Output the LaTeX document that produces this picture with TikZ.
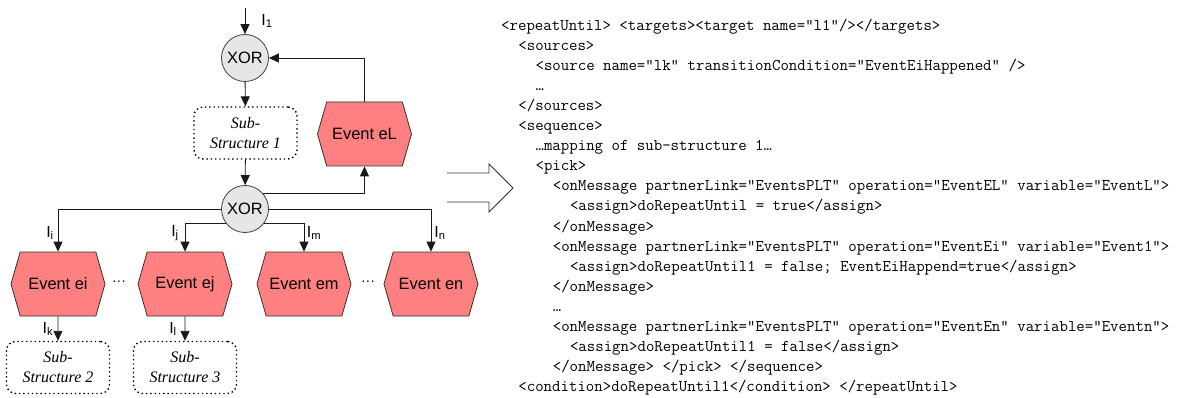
\documentclass[tikz,border=0pt]{standalone}
\usepackage{fontspec}
\setmainfont{Liberation Sans}
\newfontfamily\subfont{Liberation Serif}
\usetikzlibrary{arrows.meta,shapes.symbols}

\definecolor{evred}{RGB}{255,128,128}
\definecolor{xorgray}{RGB}{230,230,230}

\tikzset{
  line/.style={draw=black!90, line width=0.9pt},
  arr/.style={line, -{Triangle[length=10pt,width=9pt]}},
  xorgate/.style={circle, draw=black!75, fill=xorgray, line width=0.8pt,
    minimum size=47pt, inner sep=0pt, font=\fontsize{16.4}{18}\selectfont},
  event/.style={signal, signal to=west and east, signal pointer angle=148,
    draw=black!80, fill=evred, line width=0.8pt, minimum width=94pt,
    minimum height=64pt, inner sep=0pt, font=\fontsize{16.4}{18}\selectfont},
  subbox/.style={rectangle, rounded corners=9pt, draw=black,
    dash pattern=on 1.4pt off 2.9pt, line width=1.4pt, minimum width=103pt,
    minimum height=52pt, inner sep=0pt, align=center,
    font=\subfont\itshape\fontsize{16}{20}\selectfont},
  lbl/.style={inner sep=0pt, font=\fontsize{16}{18}\selectfont},
  dots/.style={inner sep=0pt, font=\fontsize{14}{16}\selectfont},
  code/.style={anchor=base west, inner sep=0pt,
    font=\ttfamily\fontsize{16.4}{20}\selectfont},
}

\begin{document}
\begin{tikzpicture}[x=1pt, y=-1pt]
  \useasboundingbox (0,0) rectangle (1188,398);

  % --- process structure ---
  \node[xorgate] (xor1) at (245,58) {XOR};
  \node[subbox]  (sub1) at (245.5,133) {Sub-\\Structure 1};
  \node[xorgate] (xor2) at (245,209) {XOR};
  \node[event]   (evL)  at (364.5,134) {Event eL};

  \node[event] (evi) at (58,284)  {Event ei};
  \node[event] (evj) at (185,284) {Event ej};
  \node[event] (evm) at (304,284) {Event em};
  \node[event] (evn) at (431,284) {Event en};

  \node[dots] (d1) at (119,283) {···};
  \node[dots] (d2) at (368,283) {···};

  \node[subbox] (sub2) at (58,367.5)  {Sub-\\Structure 2};
  \node[subbox] (sub3) at (185,367.5) {Sub-\\Structure 3};

  \coordinate (in1) at (245,8);

  % --- connectors ---
  \draw[arr] (in1) -- (xor1);
  \draw[arr] (xor1) -- (sub1);
  \draw[arr] (sub1) -- (xor2);
  \draw[arr] (xor2.40) -| (evL.south);
  \draw[arr] (evL.north) |- (xor1.east);
  \draw[arr] (xor2.west) -| (evi.north);
  \draw[arr] (xor2.east) -| (evn.north);
  \draw[arr] (xor2.-143) -| (evj.north);
  \draw[arr] (xor2.-37) -| (evm.north);
  \draw[arr] (evi) -- (sub2);
  \draw[arr] (evj) -- (sub3);

  % --- link labels ---
  \node[lbl] (l1) at (267,21)  {I\textsubscript{1}};
  \node[lbl] (li) at (50,233)  {I\textsubscript{i}};
  \node[lbl] (lj) at (175,233) {I\textsubscript{j}};
  \node[lbl] (lm) at (314,233) {I\textsubscript{m}};
  \node[lbl] (ln) at (440,233) {I\textsubscript{n}};
  \node[lbl] (lk) at (48,329)  {I\textsubscript{k}};
  \node[lbl] (ll) at (173,329) {I\textsubscript{l}};

  % --- mapping arrow ---
  \draw[black!80, line width=0.8pt, line join=miter]
    (447,173) -- (489,173) -- (489,164) -- (513,188) -- (489,212)
    -- (489,202) -- (447,202);

  % --- BPEL code ---
  \node[code] (c0)  at (501.0,31)  {<repeatUntil> <targets><target name="l1"/></targets>};
  \node[code] (c1)  at (518.2,51)  {<sources>};
  \node[code] (c2)  at (535.4,71)  {<source name="lk" transitionCondition="EventEiHappened" />};
  \node[code] (c3)  at (535.4,91)  {…};
  \node[code] (c4)  at (518.2,111) {</sources>};
  \node[code] (c5)  at (518.2,131) {<sequence>};
  \node[code] (c6)  at (535.4,151) {…mapping of sub-structure 1…};
  \node[code] (c7)  at (535.4,171) {<pick>};
  \node[code] (c8)  at (552.6,191) {<onMessage partnerLink="EventsPLT" operation="EventEL" variable="EventL">};
  \node[code] (c9)  at (569.8,211) {<assign>doRepeatUntil = true</assign>};
  \node[code] (c10) at (552.6,231) {</onMessage>};
  \node[code] (c11) at (552.6,251) {<onMessage partnerLink="EventsPLT" operation="EventEi" variable="Event1">};
  \node[code] (c12) at (569.8,271) {<assign>doRepeatUntil1 = false; EventEiHappend=true</assign>};
  \node[code] (c13) at (552.6,291) {</onMessage>};
  \node[code] (c14) at (552.6,311) {…};
  \node[code] (c15) at (552.6,331) {<onMessage partnerLink="EventsPLT" operation="EventEn" variable="Eventn">};
  \node[code] (c16) at (569.8,351) {<assign>doRepeatUntil1 = false</assign>};
  \node[code] (c17) at (552.6,371) {</onMessage> </pick> </sequence>};
  \node[code] (c18) at (518.2,391) {<condition>doRepeatUntil1</condition> </repeatUntil>};
\end{tikzpicture}
\end{document}
